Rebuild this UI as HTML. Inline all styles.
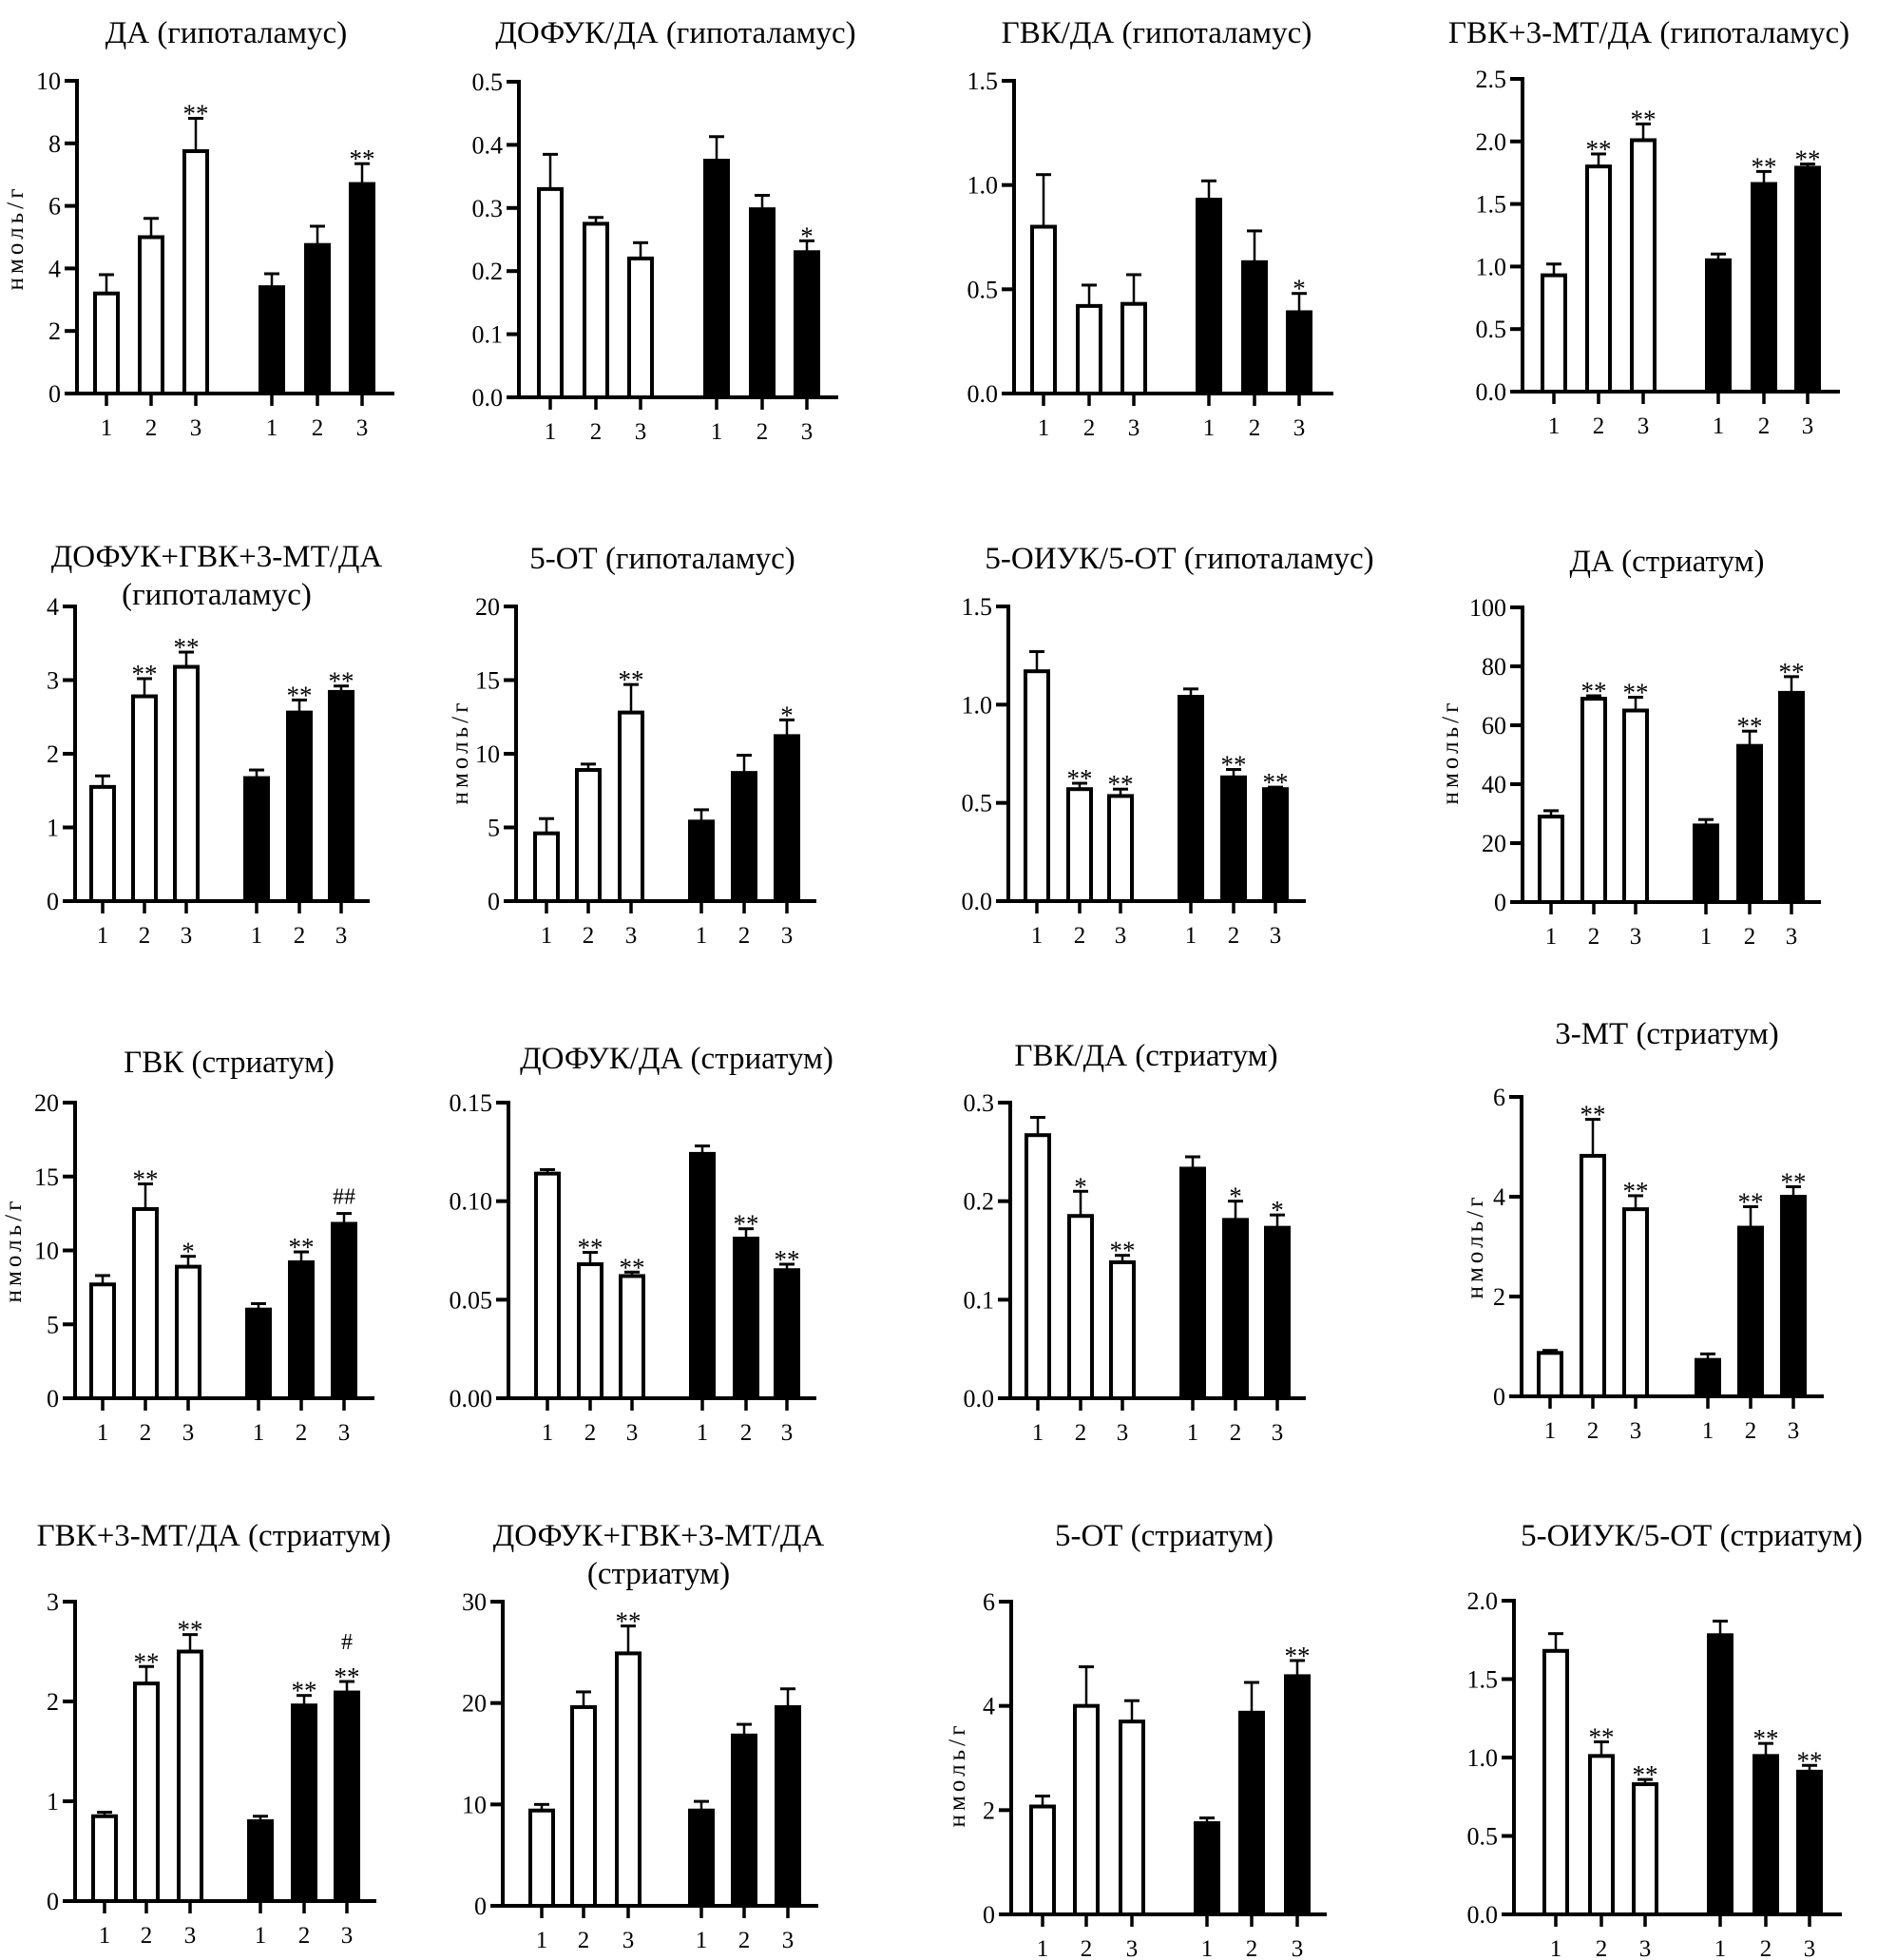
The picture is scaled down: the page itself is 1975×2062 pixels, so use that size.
<!DOCTYPE html>
<html><head><meta charset="utf-8">
<style>
html,body{margin:0;padding:0;background:#fff;}
svg{display:block;}
text{font-family:"Liberation Serif","DejaVu Serif",serif;fill:#000;}
</style></head>
<body>
<svg id="fig" width="1975" height="2062" viewBox="0 0 1975 2062" xmlns="http://www.w3.org/2000/svg"></svg>
<script>
// ---- data ----
const titles = [
 ["ДА (гипоталамус)"],["ДОФУК/ДА (гипоталамус)"],["ГВК/ДА (гипоталамус)"],["ГВК+3-МТ/ДА (гипоталамус)"],
 ["ДОФУК+ГВК+3-МТ/ДА","(гипоталамус)"],["5-ОТ (гипоталамус)"],["5-ОИУК/5-ОТ (гипоталамус)"],["ДА (стриатум)"],
 ["ГВК (стриатум)"],["ДОФУК/ДА (стриатум)"],["ГВК/ДА (стриатум)"],["3-МТ (стриатум)"],
 ["ГВК+3-МТ/ДА (стриатум)"],["ДОФУК+ГВК+3-МТ/ДА","(стриатум)"],["5-ОТ (стриатум)"],["5-ОИУК/5-ОТ (стриатум)"]
];
const yTickLabels = [
 ["0","2","4","6","8","10"],["0.0","0.1","0.2","0.3","0.4","0.5"],["0.0","0.5","1.0","1.5"],["0.0","0.5","1.0","1.5","2.0","2.5"],
 ["0","1","2","3","4"],["0","5","10","15","20"],["0.0","0.5","1.0","1.5"],["0","20","40","60","80","100"],
 ["0","5","10","15","20"],["0.00","0.05","0.10","0.15"],["0.0","0.1","0.2","0.3"],["0","2","4","6"],
 ["0","1","2","3"],["0","10","20","30"],["0","2","4","6"],["0.0","0.5","1.0","1.5","2.0"]
];
const categories = ["1","2","3","1","2","3"];
const whiteMeans = [
 [3.2,5.0,7.75],[0.33,0.275,0.22],[0.80,0.42,0.43],[0.93,1.80,2.01],
 [1.55,2.78,3.18],[4.6,8.9,12.8],[1.17,0.57,0.535],[29,69,65],
 [7.7,12.8,8.9],[0.114,0.068,0.062],[0.267,0.185,0.138],[0.87,4.82,3.75],
 [0.85,2.18,2.5],[9.4,19.6,24.9],[2.07,4.0,3.7],[1.68,1.01,0.83]
];
const whiteErrTop = [
 [3.8,5.6,8.8],[0.385,0.285,0.245],[1.05,0.52,0.57],[1.02,1.90,2.14],
 [1.70,3.02,3.38],[5.6,9.3,14.7],[1.27,0.60,0.57],[31,70,69.5],
 [8.3,14.5,9.6],[0.116,0.074,0.064],[0.285,0.21,0.145],[0.92,5.55,4.02],
 [0.89,2.35,2.67],[10,21.1,27.6],[2.27,4.75,4.1],[1.79,1.10,0.86]
];
const blackMeans = [
 [3.4,4.75,6.7],[0.375,0.298,0.23],[0.93,0.63,0.39],[1.05,1.66,1.79],
 [1.67,2.56,2.84],[5.4,8.7,11.2],[1.04,0.63,0.57],[26,53,71],
 [6.0,9.2,11.8],[0.124,0.081,0.065],[0.233,0.181,0.173],[0.73,3.38,4.0],
 [0.80,1.96,2.09],[9.4,16.8,19.6],[1.75,3.87,4.57],[1.78,1.01,0.91]
];
const blackErrTop = [
 [3.83,5.35,7.35],[0.413,0.32,0.248],[1.02,0.78,0.48],[1.10,1.76,1.82],
 [1.78,2.73,2.92],[6.2,9.9,12.3],[1.08,0.67,0.58],[28,58,76.5],
 [6.4,9.9,12.5],[0.128,0.086,0.068],[0.245,0.20,0.186],[0.85,3.8,4.2],
 [0.85,2.06,2.2],[10.3,17.9,21.4],[1.85,4.45,4.87],[1.87,1.09,0.95]
];
const whiteSig = [
 ["","","**"],["","",""],["","",""],["","**","**"],
 ["","**","**"],["","","**"],["","**","**"],["","**","**"],
 ["","**","*"],["","**","**"],["","*","**"],["","**","**"],
 ["","**","**"],["","","**"],["","",""],["","**","**"]
];
const blackSig = [
 ["","","**"],["","","*"],["","","*"],["","**","**"],
 ["","**","**"],["","","*"],["","**","**"],["","**","**"],
 ["","**","##"],["","**","**"],["","*","*"],["","**","**"],
 ["","**","#|**"],["","",""],["","","**"],["","**","**"]
];
// ---- layout (pixel geometry, not data) ----
const layout = [
 {ax:81,top:85,bot:414,end:415,c:[112,159,206,286,334,381],tx:238,ty:[45],yl:[16,252]},
 {ax:546,top:86,bot:418,end:882,c:[579,627,674,754,802,849],tx:711,ty:[45]},
 {ax:1067,top:85,bot:414,end:1403,c:[1098,1146,1193,1272,1320,1367],tx:1217,ty:[45]},
 {ax:1602,top:83,bot:412,end:1936,c:[1635,1682,1729,1808,1856,1902],tx:1735,ty:[45]},
 {ax:79,top:638,bot:948,end:389,c:[108,152,196,270,315,359],tx:228,ty:[596,636]},
 {ax:543,top:638,bot:948,end:859,c:[575,619,664,738,783,828],tx:697,ty:[598],yl:[484,793]},
 {ax:1061,top:638,bot:948,end:1374,c:[1091,1136,1179,1253,1298,1342],tx:1241,ty:[598]},
 {ax:1602,top:639,bot:949,end:1916,c:[1632,1677,1721,1795,1841,1885],tx:1754,ty:[601],yl:[1526,793]},
 {ax:79,top:1160,bot:1471,end:394,c:[108,153,198,272,317,362],tx:241,ty:[1128],yl:[14,1317]},
 {ax:535,top:1160,bot:1471,end:859,c:[576,621,665,739,785,828],tx:712,ty:[1124]},
 {ax:1063,top:1160,bot:1471,end:1374,c:[1092,1137,1181,1255,1300,1344],tx:1206,ty:[1121]},
 {ax:1601,top:1154,bot:1469,end:1919,c:[1631,1676,1721,1797,1842,1887],tx:1754,ty:[1098],yl:[1552,1313]},
 {ax:79,top:1685,bot:2000,end:396,c:[110,154,200,274,320,365],tx:225,ty:[1626]},
 {ax:529,top:1685,bot:2005,end:861,c:[570,614,661,738,783,829],tx:693,ty:[1626,1666]},
 {ax:1064,top:1685,bot:2014,end:1396,c:[1097,1143,1191,1270,1317,1365],tx:1225,ty:[1626],yl:[1007,1869]},
 {ax:1593,top:1684,bot:2014,end:1938,c:[1637,1685,1731,1810,1858,1904],tx:1780,ty:[1626]}
];
const NS="http://www.w3.org/2000/svg";
const svg=document.getElementById('fig');
function mk(tag,attrs,parent){const e=document.createElementNS(NS,tag);for(const k in attrs)e.setAttribute(k,attrs[k]);(parent||svg).appendChild(e);return e;}
const BW=28;
layout.forEach((L,i)=>{
  const g=mk('g',{});
  
  
  const ticks=yTickLabels[i].map(Number);
  const yMax=ticks[ticks.length-1];
  const y=v=>L.bot-(v/yMax)*(L.bot-L.top);
  titles[i].forEach((t,k)=>{
    const tt=mk('text',{x:L.tx,y:L.ty[k],'text-anchor':'middle','font-size':33},g);
    tt.textContent=t;
    
    
  });
  if(L.yl){
    const yl=mk('text',{x:0,y:0,'text-anchor':'middle','font-size':25,transform:`translate(${L.yl[0]+8},${L.yl[1]}) rotate(-90)`,textLength:107,lengthAdjust:'spacing'},g);
    yl.textContent='нмоль/г';
    
    
  }
  const groups=[[whiteMeans[i],whiteErrTop[i],whiteSig[i],'#fff'],[blackMeans[i],blackErrTop[i],blackSig[i],'#000']];
  groups.forEach((G,gi)=>{
    G[0].forEach((v,j)=>{
      const cx=L.c[gi*3+j];
      const yt=y(v), ye=y(G[1][j]);
      const eb=mk('line',{x1:cx,x2:cx,y1:yt,y2:ye,stroke:'#000','stroke-width':2.5},g);
      
      
      const cap=mk('line',{x1:cx-8,x2:cx+8,y1:ye,y2:ye,stroke:'#000','stroke-width':3},g);
      
      
      const r=mk('rect',{x:cx-BW/2+2,y:yt,width:BW-4,height:L.bot-yt,fill:G[3],stroke:'#000','stroke-width':4},g);
      
      
      const s=G[2][j];
      if(s){
        const parts=s.split('|');
        parts.reverse().forEach((p,k)=>{
          const st=mk('text',{x:cx,y:ye-10-k*24+(p.includes('*')?14:0),'text-anchor':'middle','font-size':p.includes('*')?27:24},g);
          st.textContent=p;
          
          
        });
      }
    });
  });
  const ya=mk('line',{x1:L.ax,x2:L.ax,y1:L.top-2,y2:L.bot+2,stroke:'#000','stroke-width':4},g);
  
  
  const xa=mk('line',{x1:L.ax-13,x2:L.end,y1:L.bot,y2:L.bot,stroke:'#000','stroke-width':4},g);
  
  
  yTickLabels[i].forEach((lab,k)=>{
    const yy=y(ticks[k]);
    const tk=mk('line',{x1:L.ax-13,x2:L.ax,y1:yy,y2:yy,stroke:'#000','stroke-width':4},g);
    
    
    const tl=mk('text',{x:L.ax-17,y:yy+9,'text-anchor':'end','font-size':26},g);
    tl.textContent=lab;
    
    
  });
  categories.forEach((c,k)=>{
    const cx=L.c[k];
    const tk=mk('line',{x1:cx,x2:cx,y1:L.bot,y2:L.bot+13,stroke:'#000','stroke-width':3.5},g);
    
    
    const tl=mk('text',{x:cx,y:L.bot+44,'text-anchor':'middle','font-size':25},g);
    tl.textContent=c;
    
    
  });
});
</script>
</body></html>
